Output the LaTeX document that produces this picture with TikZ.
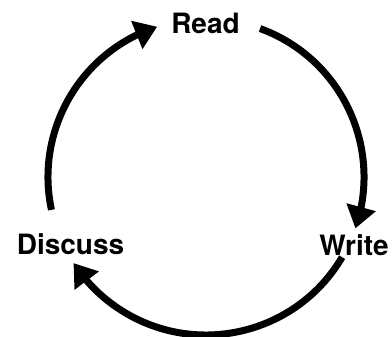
\documentclass[tikz,border=0pt]{standalone}
\usepackage{fontspec}
\setmainfont{TeX Gyre Heros}
\usepackage{tikz}
\usetikzlibrary{arrows.meta,bending}

\begin{document}
\begin{tikzpicture}[x=1pt, y=1pt,
    stage/.style={font=\fontsize{28}{30}\selectfont\bfseries, anchor=base, inner sep=0pt},
    cyc/.style={line width=7pt, -{Triangle[length=22pt, width=29pt, flex]}}
]
    \useasboundingbox (-206,-160) rectangle (186,177);

    % The three stages
    \node[stage] (read)    at (-0.5,143)  {Read};
    \node[stage] (write)   at (148,-79)   {Write};
    \node[stage] (discuss) at (-135.5,-78) {Discuss};

    % Where each arc starts on the circle
    \coordinate (d2r) at (192:158);
    \coordinate (r2w) at (70:158);
    \coordinate (w2d) at (-30.5:158);

    % Cycle: Discuss -> Read -> Write -> Discuss
    \draw[cyc] (d2r) arc[start angle=192,   end angle=108,  radius=158];
    \draw[cyc] (r2w) arc[start angle=70,    end angle=-19,  radius=158];
    \draw[cyc] (w2d) arc[start angle=-30.5, end angle=-147, radius=158];
\end{tikzpicture}
\end{document}
